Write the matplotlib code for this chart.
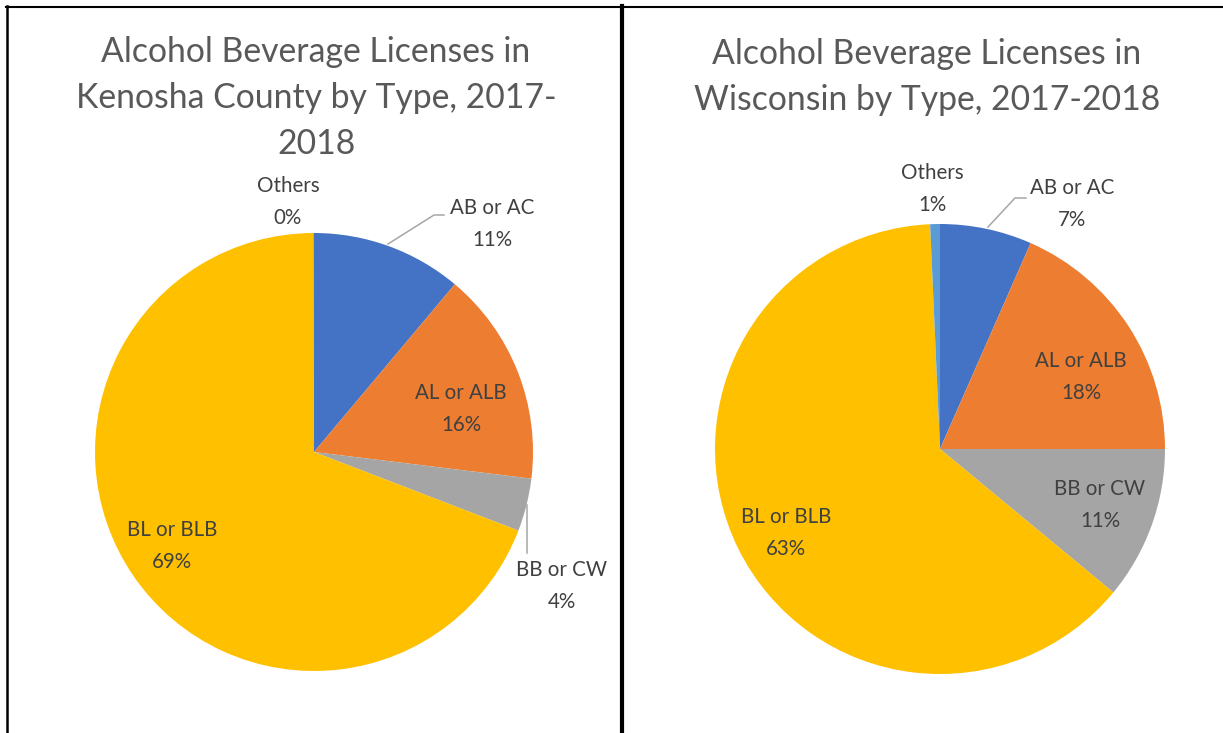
import matplotlib
matplotlib.use("Agg")
import matplotlib.pyplot as plt
from matplotlib.lines import Line2D

# data (percent of licences)
categories = ["AB or AC", "AL or ALB", "BB or CW", "BL or BLB", "Others"]
kenosha_pct = [11.1, 15.8, 3.9, 69.0, 0.05]
kenosha_lbl = ["11%", "16%", "4%", "69%", "0%"]
wisconsin_pct = [6.6, 18.4, 11.0, 63.3, 0.7]
wisconsin_lbl = ["7%", "18%", "11%", "63%", "1%"]
titles = ["Alcohol Beverage Licenses in\nKenosha County by Type, 2017-\n2018",
          "Alcohol Beverage Licenses in\nWisconsin by Type, 2017-2018"]

colors = ["#4472C4", "#ED7D31", "#A5A5A5", "#FFC000", "#5B9BD5"]

W, H = 1223, 733
FONT = ["Lato", "DejaVu Sans"]


def fx(px):
    return px / W


def fy(py):
    return 1 - py / H


# layout in pixels: pie centre, radius, title centre, label centres, leader lines
panels = [
    dict(vals=kenosha_pct, lbls=kenosha_lbl, title=titles[0],
         cx=314, cy=452, r=219, tx=316, ty=98,
         pos=[(492, 224), (461, 409), (562, 586), (172, 546), (288, 202)],
         leaders=[[(388, 244), (434, 215), (444, 215)],
                  [(527, 505), (527, 553)]]),
    dict(vals=wisconsin_pct, lbls=wisconsin_lbl, title=titles[1],
         cx=940, cy=449, r=225, tx=927, ty=77,
         pos=[(1072, 204), (1081, 377), (1100, 505), (786, 533), (932, 189)],
         leaders=[[(988, 227), (1015, 198), (1026, 198)]]),
]

fig = plt.figure(figsize=(W / 100, H / 100), dpi=100)

for p in panels:
    r = p["r"]
    ax = fig.add_axes([fx(p["cx"] - r), fy(p["cy"] + r), 2 * r / W, 2 * r / H])
    ax.pie(p["vals"], colors=colors, startangle=90, counterclock=False,
           radius=1, wedgeprops=dict(linewidth=0))
    ax.set_xlim(-1, 1)
    ax.set_ylim(-1, 1)
    ax.axis("off")

    fig.text(fx(p["tx"]), fy(p["ty"]), p["title"], ha="center", va="center",
             fontsize=24.3, color="#595959", family=FONT, linespacing=1.55)

    for name, lab, (x, y) in zip(categories, p["lbls"], p["pos"]):
        fig.text(fx(x), fy(y), name + "\n" + lab, ha="center", va="center",
                 fontsize=14.8, color="#404040", family=FONT, linespacing=1.72)

    for pts in p["leaders"]:
        xs = [fx(a) for a, b in pts]
        ys = [fy(b) for a, b in pts]
        fig.add_artist(Line2D(xs, ys, color="#A6A6A6", linewidth=1.1))

# frame lines
fig.add_artist(Line2D([fx(6), fx(1223)], [fy(7), fy(7)], color="black", linewidth=1.5))
fig.add_artist(Line2D([fx(7), fx(7)], [fy(6), fy(733)], color="black", linewidth=1.8))
fig.add_artist(Line2D([fx(622), fx(622)], [fy(6), fy(733)], color="black", linewidth=3))

fig.savefig("out.png", dpi=100, facecolor="white")
